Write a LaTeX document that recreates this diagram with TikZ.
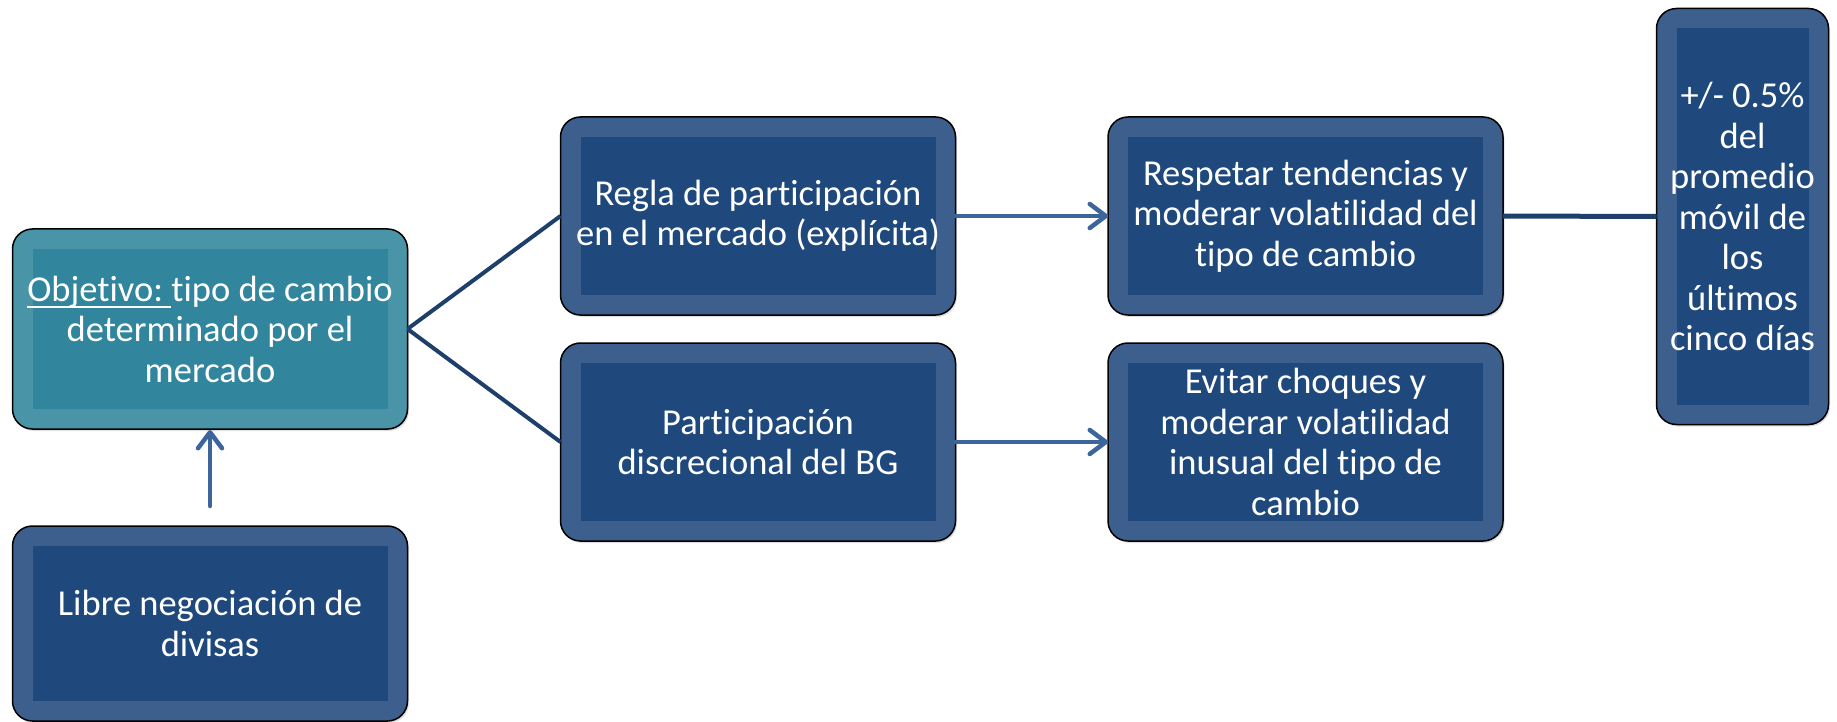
\documentclass[tikz,border=0pt]{standalone}
\usepackage{fontspec}
\setmainfont{Carlito}[Ligatures=NoCommon]
\usetikzlibrary{arrows.meta,shadows}
\newcommand\ulx[1]{\setbox0\hbox{#1}\rlap{\rule[-7pt]{\wd0}{2pt}}\box0}
\definecolor{bandblue}{HTML}{3D5F8D}
\definecolor{coreblue}{HTML}{1F497D}
\definecolor{bandteal}{HTML}{4A94A8}
\definecolor{coreteal}{HTML}{31859C}
\definecolor{navyline}{HTML}{1F3F6B}
\definecolor{arrowblue}{HTML}{3C669B}
\tikzset{
  boxbase/.style={draw=black, line width=1.5pt, rounded corners=20pt,
    inner sep=0pt, outer sep=0pt, align=center, text=white,
    font=\fontsize{36.5}{40.5}\selectfont,
    drop shadow={opacity=0.25, shadow xshift=1.5pt, shadow yshift=-2pt}},
  bluebox/.style={boxbase, fill=bandblue,
    path picture={\fill[coreblue, sharp corners] ([shift={(20pt,20pt)}]path picture bounding box.south west)
      rectangle ([shift={(-20pt,-20pt)}]path picture bounding box.north east);}},
  tealbox/.style={boxbase, fill=bandteal,
    path picture={\fill[coreteal, sharp corners] ([shift={(20pt,20pt)}]path picture bounding box.south west)
      rectangle ([shift={(-20pt,-20pt)}]path picture bounding box.north east);}},
  wide/.style={minimum width=395pt, minimum height=198pt},
  branch/.style={navyline, line width=4pt},
  link/.style={navyline, line width=5pt},
  flow/.style={arrowblue, line width=4.5pt, line cap=round,
    -{Straight Barb[length=16pt, width=24pt, line cap=round, line join=round]}}
}
\begin{document}
\begin{tikzpicture}[x=1pt, y=1pt]
\useasboundingbox (0,0) rectangle (1837,-722);
\node[tealbox, wide, minimum height=200pt] (obj) at (210,-329)
  {\ulx{Objetivo:\ }tipo de cambio\\determinado por el\\mercado};
\node[bluebox, wide, minimum height=195pt] (libre) at (210,-623.5)
  {Libre negociación de\\divisas};
\node[bluebox, wide] (regla) at (758,-216)
  {Regla de participación\\en el mercado (explícita)};
\node[bluebox, wide] (part) at (758,-442)
  {Participación\\discrecional del BG};
\node[bluebox, wide] (resp) at (1305.5,-216)
  {Respetar tendencias y\\moderar volatilidad del\\tipo de cambio};
\node[bluebox, wide] (evit) at (1305.5,-442)
  {Evitar choques y\\moderar volatilidad\\inusual del tipo de\\cambio};
\node[bluebox, minimum width=172pt, minimum height=416pt] (rng) at (1742.5,-216.5)
  {+/- 0.5\%\\del\\promedio\\móvil de\\los\\últimos\\cinco días};
\draw[branch] (obj.east) -- (regla.west);
\draw[branch] (obj.east) -- (part.west);
\draw[flow] (regla.east) -- (resp.west);
\draw[flow] (part.east) -- (evit.west);
\draw[link] (resp.east) -- (rng.west);
\draw[flow] ([yshift=20pt]libre.north) -- ([yshift=-1pt]obj.south);
\end{tikzpicture}
\end{document}
